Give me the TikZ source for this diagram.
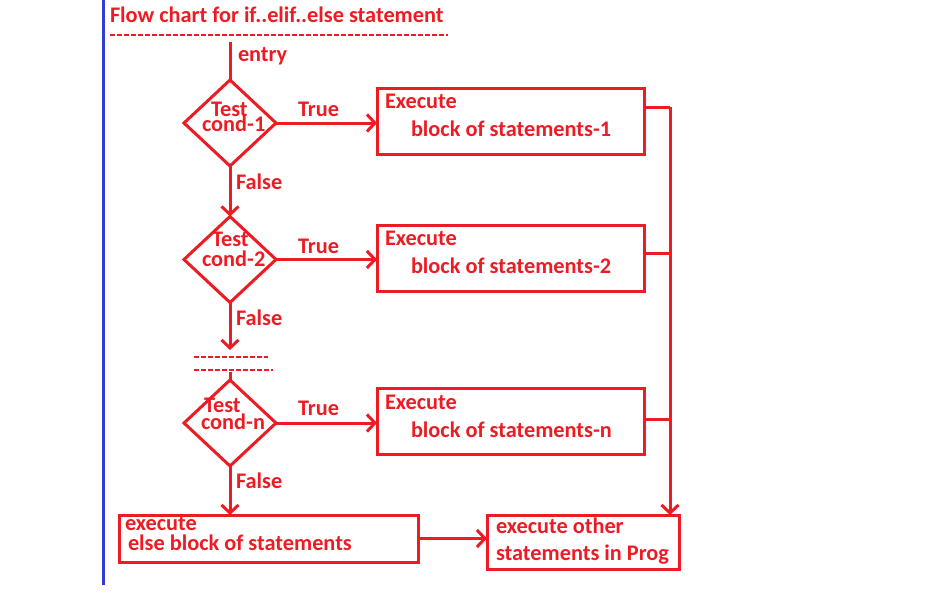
\documentclass[tikz,border=0pt]{standalone}
\usepackage{fontspec}
\setmainfont{Carlito}
\usetikzlibrary{shapes.geometric,arrows.meta}
\definecolor{fcred}{RGB}{237,28,36}
\definecolor{fcblue}{RGB}{50,60,210}
\begin{document}
\begin{tikzpicture}[x=1pt,y=-1pt,
  line width=3pt,
  conn/.style={draw=fcred, line width=3pt},
  arr/.style={conn, -{Straight Barb[length=8pt,width=17pt]}},
  boxnode/.style={draw=fcred, line width=3pt, rectangle, inner sep=0pt, outer sep=0pt},
  dia/.style={draw=fcred, line width=3pt, diamond, inner sep=0pt, outer sep=0pt, minimum width=92pt, minimum height=86pt},
  txt/.style={anchor=base west, inner sep=0pt, outer sep=0pt, text=fcred, font=\fontsize{22.3}{22}\selectfont\bfseries},
  dashline/.style={draw=fcred, line width=2pt, dash pattern=on 5pt off 2pt}
]
\useasboundingbox (0,0) rectangle (942,610);
\fill[white] (0,0) rectangle (942,610);

% blue margin line
\draw[fcblue, line width=3pt] (103,0) -- (103,585);

% title
\node[txt] (title) at (110,23) {Flow chart for if..elif..else statement};
\coordinate (t1) at (110,35);
\coordinate (t2) at (448,35);
\draw[dashline] (t1) -- (t2);

% diamonds
\node[dia] (d1) at (230,123) {};
\node[dia] (d2) at (230,259.5) {};
\node[dia] (dn) at (230,423) {};

% boxes
\node[boxnode, minimum width=267pt, minimum height=66pt] (b1) at (510.5,121) {};
\node[boxnode, minimum width=267pt, minimum height=66pt] (b2) at (510.5,258) {};
\node[boxnode, minimum width=267pt, minimum height=66pt] (bn) at (510.5,421) {};
\node[boxnode, minimum width=299pt, minimum height=47pt] (else) at (268.5,538.5) {};
\node[boxnode, minimum width=192pt, minimum height=54pt] (other) at (583,542) {};

% diamond texts
\node[txt] (d1a) at (211,116) {Test};
\node[txt] (d1b) at (202,131) {cond-1};
\node[txt] (d2a) at (212,246) {Test};
\node[txt] (d2b) at (202,266) {cond-2};
\node[txt] (dna) at (204,412) {Test};
\node[txt] (dnb) at (201,429) {cond-n};

% box texts
\node[txt] (b1a) at (385,108) {Execute};
\node[txt] (b1b) at (411,136) {block of statements-1};
\node[txt] (b2a) at (385,245) {Execute};
\node[txt] (b2b) at (411,273) {block of statements-2};
\node[txt] (bna) at (385,409) {Execute};
\node[txt] (bnb) at (411,437) {block of statements-n};
\node[txt] (ea) at (125,530) {execute};
\node[txt] (eb) at (128,550) {else block of statements};
\node[txt] (oa) at (496,533) {execute other};
\node[txt] (ob) at (496,560) {statements in Prog};

% labels
\node[txt] (lentry) at (238,62) {entry};
\node[txt] (lt1) at (298,116) {True};
\node[txt] (lt2) at (298,253) {True};
\node[txt] (ltn) at (298,415) {True};
\node[txt] (lf1) at (236,189) {False};
\node[txt] (lf2) at (236,325) {False};
\node[txt] (lfn) at (236,488) {False};

% entry
\coordinate (entry) at (230,42);
\draw[conn] (entry) -- (d1.north);

% true arrows
\draw[arr] (d1.east) -- (d1.east -| b1.west);
\draw[arr] (d2.east) -- (d2.east -| b2.west);
\draw[arr] (dn.east) -- (dn.east -| bn.west);

% false arrows
\draw[arr] (d1.south) -- (d2.north);
\coordinate (f2end) at (230,350);
\draw[arr] (d2.south) -- (f2end);
\coordinate (m1) at (194,357);
\coordinate (m2) at (268,357);
\coordinate (m3) at (194,370);
\coordinate (m4) at (273,370);
\draw[dashline] (m1) -- (m2);
\draw[dashline] (m3) -- (m4);
\coordinate (nstart) at (230,372);
\draw[conn] (nstart) -- (dn.north);
\draw[arr] (dn.south) -- (dn.south |- else.north);

% else to other
\draw[arr] (else.east) -- (else.east -| other.west);

% right collector
\coordinate (r1) at (670,107);
\coordinate (r2) at (670,253);
\coordinate (r3) at (670,419);
\draw[conn] (b1.east |- r1) -- (r1);
\draw[conn] (b2.east |- r2) -- (r2);
\draw[conn] (bn.east |- r3) -- (r3);
\draw[arr] (r1) -- (r1 |- other.north);
\end{tikzpicture}
\end{document}
